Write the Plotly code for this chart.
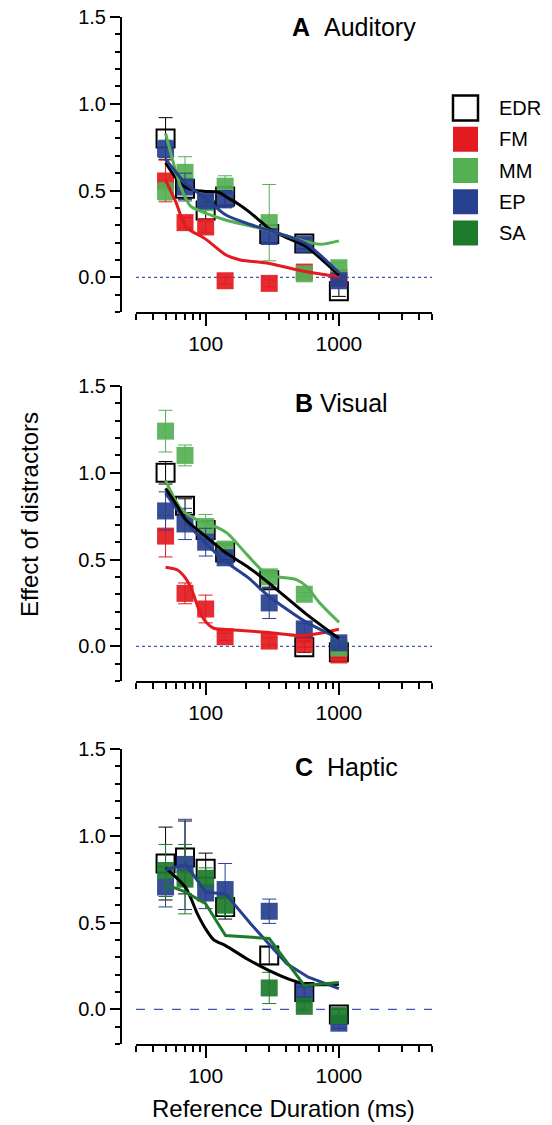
import plotly.graph_objects as go
import math

# ---------------- data ----------------
durations = [50, 70, 100, 140, 300, 550, 1000]
series_names = ["EDR", "FM", "MM", "EP", "SA"]
series_colors = {"EDR": "#000000", "FM": "#e31a1f", "MM": "#55b054", "EP": "#27408f", "SA": "#1d7a2b"}
panel_titles = ["<b>A</b>&nbsp;&nbsp;Auditory", "<b>B</b> Visual", "<b>C</b>&nbsp;&nbsp;Haptic"]
y_tick_vals = [0.0, 0.5, 1.0, 1.5]
y_tick_text = ["0.0", "0.5", "1.0", "1.5"]
x_tick_vals = [100, 1000]
x_tick_text = ["100", "1000"]
x_minor_vals = [30, 40, 50, 60, 70, 80, 90, 200, 300, 400, 500, 600, 700, 800, 900, 2000, 3000, 4000, 5000]

# Panel A (Auditory)
A_EDR = [0.80, 0.51, 0.385, 0.465, 0.25, 0.195, -0.08]
A_EDR_err = [0.12, 0.06, 0.05, 0.06, 0.05, 0.03, 0.03]
A_FM = [0.555, 0.315, 0.29, -0.02, -0.035, 0.03, 0.0]
A_FM_err = [0.12, 0.03, 0.03, 0.02, 0.02, 0.03, 0.02]
A_MM = [0.495, 0.605, 0.43, 0.525, 0.315, 0.02, 0.055]
A_MM_err = [0.05, 0.09, 0.04, 0.06, 0.22, 0.02, 0.03]
A_EP = [0.74, 0.52, 0.44, 0.45, 0.235, 0.19, -0.02]
A_EP_err = [0.05, 0.08, 0.03, 0.05, 0.04, 0.03, 0.03]

A_fit_EDR_x = [50, 60, 70, 85, 100, 125, 145, 170, 210, 260, 300, 400, 560, 1000]
A_fit_EDR_y = [0.66, 0.57, 0.52, 0.50, 0.495, 0.49, 0.46, 0.43, 0.38, 0.32, 0.28, 0.23, 0.18, 0.013]
A_fit_FM_x = [50, 60, 71, 100, 141, 182, 300, 560, 1000]
A_fit_FM_y = [0.56, 0.43, 0.29, 0.22, 0.13, 0.10, 0.08, 0.033, 0.004]
A_fit_MM_x = [50, 65, 77, 100, 141, 205, 300, 512, 720, 1000]
A_fit_MM_y = [0.83, 0.52, 0.41, 0.37, 0.33, 0.30, 0.27, 0.215, 0.19, 0.21]
A_fit_EP_x = [50, 71, 100, 141, 205, 300, 560, 1000]
A_fit_EP_y = [0.68, 0.54, 0.455, 0.36, 0.31, 0.27, 0.196, 0.027]

# Panel B (Visual)
B_EDR = [1.0, 0.81, 0.67, 0.54, 0.38, -0.005, -0.035]
B_EDR_err = [0.065, 0.04, 0.05, 0.04, 0.04, 0.03, 0.03]
B_FM = [0.635, 0.305, 0.215, 0.055, 0.03, 0.013, -0.05]
B_FM_err = [0.12, 0.06, 0.08, 0.02, 0.02, 0.02, 0.02]
B_MM = [1.24, 1.10, 0.69, 0.56, 0.40, 0.30, -0.01]
B_MM_err = [0.12, 0.06, 0.07, 0.03, 0.03, 0.01, 0.03]
B_EP = [0.78, 0.705, 0.60, 0.51, 0.25, 0.10, 0.02]
B_EP_err = [0.11, 0.09, 0.08, 0.03, 0.09, 0.03, 0.03]

B_fit_EDR_x = [50, 61.5, 71, 100, 141, 205, 300, 560, 1000]
B_fit_EDR_y = [0.91, 0.806, 0.73, 0.633, 0.54, 0.46, 0.363, 0.19, 0.046]
B_fit_FM_x = [50, 61.5, 71, 79.6, 89, 100, 115, 163, 300, 512, 721, 1000]
B_fit_FM_y = [0.456, 0.44, 0.39, 0.315, 0.21, 0.142, 0.104, 0.094, 0.079, 0.062, 0.075, 0.098]
B_fit_MM_x = [50, 66, 92, 115, 145, 205, 289, 363, 483, 574, 721, 1003]
B_fit_MM_y = [0.956, 0.787, 0.719, 0.694, 0.652, 0.527, 0.412, 0.398, 0.383, 0.344, 0.248, 0.138]
B_fit_EP_x = [50, 71, 100, 141, 205, 300, 560, 1000]
B_fit_EP_y = [0.883, 0.719, 0.594, 0.488, 0.40, 0.287, 0.142, 0.046]

# Panel C (Haptic)
C_EDR = [0.84, 0.875, 0.81, 0.59, 0.31, 0.10, -0.03]
C_EDR_err = [0.21, 0.21, 0.09, 0.07, 0.05, 0.03, 0.03]
C_EP = [0.705, 0.835, 0.67, 0.69, 0.565, 0.10, -0.08]
C_EP_err = [0.115, 0.26, 0.09, 0.15, 0.07, 0.03, 0.03]
C_SA = [0.80, 0.75, 0.755, 0.60, 0.123, 0.017, -0.036]
C_SA_err = [0.15, 0.20, 0.06, 0.06, 0.09, 0.02, 0.04]

C_fit_EDR_x = [50, 71, 86.7, 100, 115, 141, 205, 300, 454, 610, 1000]
C_fit_EDR_y = [0.815, 0.70, 0.55, 0.463, 0.40, 0.367, 0.29, 0.223, 0.165, 0.142, 0.145]
C_fit_EP_x = [50, 71, 100, 141, 217, 407, 590, 1000]
C_fit_EP_y = [0.804, 0.835, 0.675, 0.665, 0.494, 0.262, 0.185, 0.119]
C_fit_SA_x = [50, 71, 100, 141, 300, 550, 1000]
C_fit_SA_y = [0.72, 0.675, 0.608, 0.425, 0.408, 0.137, 0.154]

panels = [
    {"points": [("EDR", A_EDR, A_EDR_err), ("FM", A_FM, A_FM_err), ("MM", A_MM, A_MM_err), ("EP", A_EP, A_EP_err)],
     "fits": [("FM", A_fit_FM_x, A_fit_FM_y, "spline"), ("EDR", A_fit_EDR_x, A_fit_EDR_y, "spline"),
              ("MM", A_fit_MM_x, A_fit_MM_y, "spline"), ("EP", A_fit_EP_x, A_fit_EP_y, "spline")],
     "zero_dash": "dot"},
    {"points": [("EDR", B_EDR, B_EDR_err), ("FM", B_FM, B_FM_err), ("MM", B_MM, B_MM_err), ("EP", B_EP, B_EP_err)],
     "fits": [("FM", B_fit_FM_x, B_fit_FM_y, "spline"), ("EP", B_fit_EP_x, B_fit_EP_y, "spline"),
              ("MM", B_fit_MM_x, B_fit_MM_y, "spline"), ("EDR", B_fit_EDR_x, B_fit_EDR_y, "spline")],
     "zero_dash": "dot"},
    {"points": [("EDR", C_EDR, C_EDR_err), ("EP", C_EP, C_EP_err), ("SA", C_SA, C_SA_err)],
     "fits": [("EDR", C_fit_EDR_x, C_fit_EDR_y, "spline"), ("EP", C_fit_EP_x, C_fit_EP_y, "linear"),
              ("SA", C_fit_SA_x, C_fit_SA_y, "linear")],
     "zero_dash": "dash"},
]

# ---------------- layout geometry ----------------
W, H = 552, 1125
FONT = "Liberation Sans, Arial, Helvetica, sans-serif"
x_dom = [136 / W, 432 / W]
y_axis_pos = 121 / W
panel_px = [(17, 312), (386, 681), (749, 1044)]
title_px = [(290, 27), (293, 403), (293, 767)]

fig = go.Figure()
layout = dict(width=W, height=H, margin=dict(l=0, r=0, t=0, b=0, pad=0), autosize=False,
              plot_bgcolor="white", paper_bgcolor="white", showlegend=False,
              font=dict(family=FONT, color="black"))
annotations = []
shapes = []

for i, p in enumerate(panels):
    n = "" if i == 0 else str(i + 1)
    xa, ya = "x" + n, "y" + n
    top, bot = panel_px[i]
    layout["xaxis" + n] = dict(
        domain=x_dom, anchor=ya, type="log", range=[math.log10(30), math.log10(5000)],
        automargin=False,
        showgrid=False, zeroline=False, showline=True, linecolor="black", linewidth=2,
        tickmode="array", tickvals=x_tick_vals, ticktext=x_tick_text,
        ticks="outside", ticklen=12, tickwidth=2, tickcolor="black",
        tickfont=dict(size=21, family=FONT, color="black"),
        minor=dict(tickmode="array", tickvals=x_minor_vals, ticks="outside", ticklen=6,
                   tickwidth=1.5, tickcolor="black", showgrid=False),
    )
    layout["yaxis" + n] = dict(
        domain=[1 - bot / H, 1 - top / H], anchor="free", position=y_axis_pos,
        automargin=False,
        range=[-0.2, 1.5], showgrid=False, zeroline=False, showline=True,
        linecolor="black", linewidth=2,
        tickmode="array", tickvals=y_tick_vals, ticktext=y_tick_text,
        ticks="outside", ticklen=10, tickwidth=1.5, tickcolor="black",
        tickfont=dict(size=20, family=FONT, color="black"),
        minor=dict(dtick=0.1, tick0=0, ticks="outside", ticklen=5, tickwidth=1.5,
                   tickcolor="black", showgrid=False),
    )
    shapes.append(dict(type="line", xref=xa + " domain", yref=ya, x0=0, x1=1, y0=0, y1=0,
                       line=dict(color="#3d57b3", width=1.2, dash=p["zero_dash"]), layer="below"))
    # data points
    for name, vals, errs in p["points"]:
        col = series_colors[name]
        if name == "EDR":
            marker = dict(symbol="square-open", size=18, color="black", line=dict(width=2, color="black"))
        else:
            marker = dict(symbol="square", size=17, color=col, opacity=0.92, line=dict(width=0))
        fig.add_trace(go.Scatter(
            x=durations, y=vals, mode="markers", name=name, xaxis=xa, yaxis=ya,
            marker=marker,
            error_y=dict(type="data", array=errs, visible=True, thickness=1, width=7, color=col),
        ))
    # fits
    for name, fx, fy, shp in p["fits"]:
        line = dict(color=series_colors[name], width=3, shape=shp)
        if shp == "spline":
            line["smoothing"] = 0.7
        fig.add_trace(go.Scatter(
            x=fx, y=fy, mode="lines", name=name + " fit", xaxis=xa, yaxis=ya, line=line,
        ))
    tx, ty = title_px[i]
    annotations.append(dict(text=panel_titles[i], xref="paper", yref="paper", x=tx / W, y=1 - ty / H,
                            xanchor="left", yanchor="middle", showarrow=False,
                            font=dict(size=25, family=FONT, color="black")))

# legend as its own small axis
legend_rows = list(range(len(series_names)))
layout["xaxis4"] = dict(domain=[440 / W, 1.0], range=[0, 1], anchor="y4", visible=False, automargin=False)
layout["yaxis4"] = dict(domain=[1 - 248.6 / H, 1 - 92.4 / H], range=[4.5, -0.5], anchor="x4",
                        visible=False, automargin=False)
legend_x = [0.2277] * len(series_names)
for name, row, lx in zip(series_names, legend_rows, legend_x):
    if name == "EDR":
        mk = dict(symbol="square-open", size=25, color="black", line=dict(width=2.5, color="black"))
    else:
        mk = dict(symbol="square", size=25, color=series_colors[name], line=dict(width=0))
    fig.add_trace(go.Scatter(x=[lx], y=[row], mode="markers", xaxis="x4", yaxis="y4",
                             marker=mk, hoverinfo="skip"))
    annotations.append(dict(text=name, xref="x4", yref="y4", x=0.509, y=row, xanchor="left",
                            yanchor="middle", showarrow=False,
                            font=dict(size=20, family=FONT, color="black")))

annotations.append(dict(text="Effect of distractors", xref="paper", yref="paper", x=29 / W, y=1 - 515 / H,
                        textangle=-90, showarrow=False, xanchor="center", yanchor="middle",
                        font=dict(size=24, family=FONT, color="black")))
annotations.append(dict(text="Reference Duration (ms)", xref="paper", yref="paper", x=283.5 / W, y=1 - 1108 / H,
                        showarrow=False, xanchor="center", yanchor="middle",
                        font=dict(size=24, family=FONT, color="black")))

layout["annotations"] = annotations
layout["shapes"] = shapes
fig.update_layout(**layout)
fig.write_html("out.html", config={"displayModeBar": False},
               post_script="document.body.style.margin='0';document.body.style.overflow='hidden';")
